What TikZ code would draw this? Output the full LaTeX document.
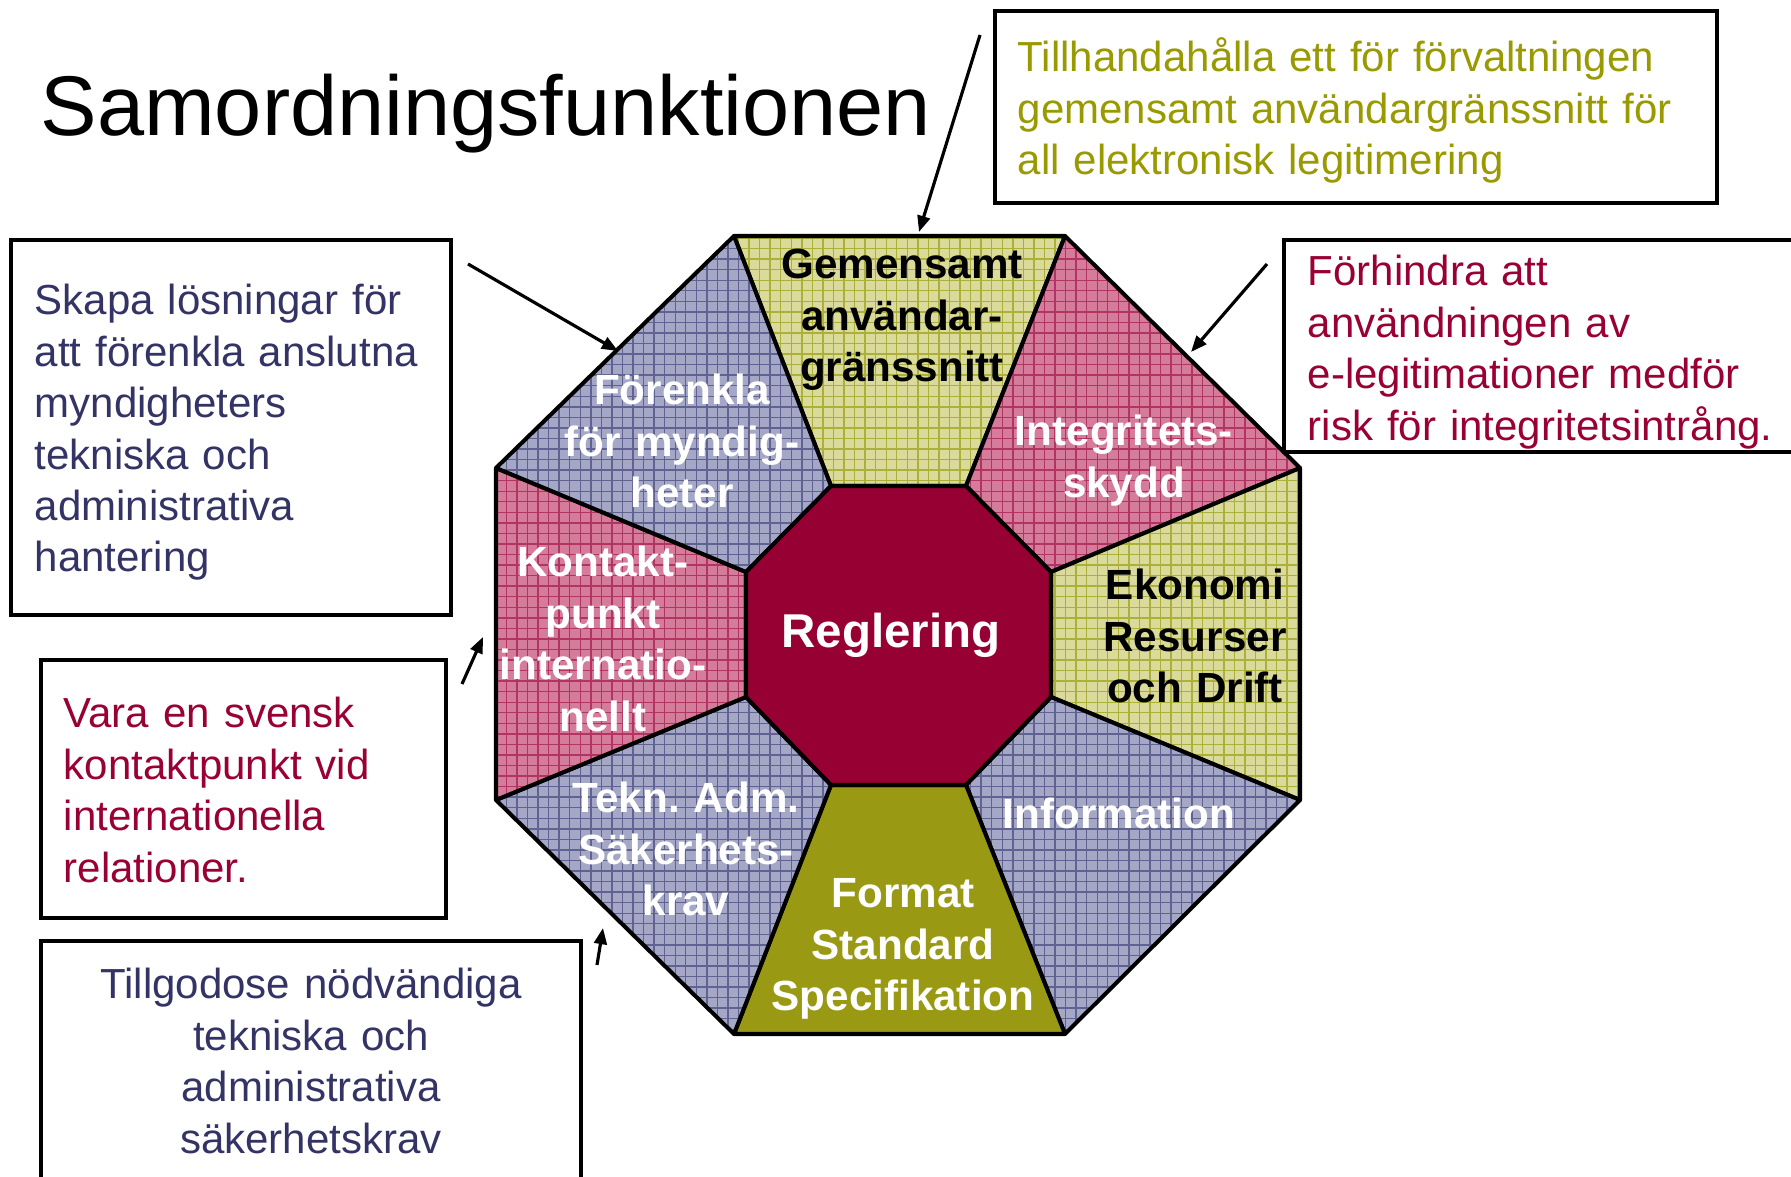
\documentclass[tikz,border=0pt]{standalone}
\usepackage{fontspec}
\setmainfont{Liberation Sans}
\usetikzlibrary{patterns,arrows.meta}
\definecolor{textolive}{RGB}{153,153,0}
\definecolor{textred}{RGB}{153,0,51}
\definecolor{textnavy}{RGB}{51,51,102}
\definecolor{bluebase}{RGB}{164,168,198}
\definecolor{blueline}{RGB}{96,98,145}
\definecolor{pinkbase}{RGB}{212,124,154}
\definecolor{pinkline}{RGB}{178,52,98}
\definecolor{yelbase}{RGB}{218,218,154}
\definecolor{yelline}{RGB}{172,176,58}
\definecolor{formatfill}{RGB}{153,153,20}
\definecolor{reglfill}{RGB}{150,0,51}
\tikzset{
  piece/.style={draw=black,line width=1.15pt,line join=round,pattern=grid},
  bluepiece/.style={piece,preaction={fill=bluebase},pattern color=blueline},
  pinkpiece/.style={piece,preaction={fill=pinkbase},pattern color=pinkline},
  yelpiece/.style={piece,preaction={fill=yelbase},pattern color=yelline},
  solidpiece/.style={draw=black,line width=1.15pt,line join=round,fill=formatfill},
  centerpiece/.style={draw=black,line width=1.15pt,line join=round,fill=reglfill},
  seglabel/.style={font=\fontsize{12}{14.6}\selectfont\bfseries,text width=3cm,align=center,anchor=base,inner sep=0pt},
  notebox/.style={draw=black,line width=1.15pt},
  note/.style={font=\fontsize{11.95}{14.6}\selectfont,text width=7cm,align=left,anchor=base west,inner sep=0pt},
  pointer/.style={line width=0.9pt,-{Triangle[length=4.6pt,width=3.6pt]}}
}

\begin{document}
\begin{tikzpicture}[x=0.01cm,y=-0.01cm]
\useasboundingbox (0,0) rectangle (1791,1177);
\clip (0,0) rectangle (1791,1177);

\node[anchor=base west,inner sep=0pt,font=\fontsize{24.1}{29}\selectfont] (title) at (40,136) {Samordningsfunktionen};

\foreach \n/\x/\y in {1/734/236,2/1065/236,3/1300/468,4/1300/800,5/1065/1034,6/734/1034,7/496/800,8/496/468}
  \coordinate (o\n) at (\x,\y);
\foreach \n/\x/\y in {1/831/486,2/966/486,3/1051/572,4/1051/697,5/966/785,6/831/785,7/746/697,8/746/572}
  \coordinate (i\n) at (\x,\y);
\foreach \a/\b/\s in {1/2/yelpiece,2/3/pinkpiece,3/4/yelpiece,4/5/bluepiece,5/6/solidpiece,6/7/bluepiece,7/8/pinkpiece,8/1/bluepiece}
  \draw[\s] (o\a) -- (o\b) -- (i\b) -- (i\a) -- cycle;
\draw[centerpiece] (i1) -- (i2) -- (i3) -- (i4) -- (i5) -- (i6) -- (i7) -- (i8) -- cycle;

\node[seglabel] (gemensamt) at (902,279) {Gemensamt\\ användar-\\ gränssnitt};
\node[seglabel,white] (integritet) at (1124,446) {Integritets-\\ skydd};
\node[seglabel] (ekonomi) at (1195,600) {Ekonomi\\ Resurser\\ och Drift};
\node[seglabel,white] (information) at (1119,829) {Information};
\node[seglabel,white] (format) at (903,908) {Format\\ Standard\\ Specifikation};
\node[seglabel,white] (tekn) at (686,813) {Tekn.\ Adm.\\ Säkerhets-\\ krav};
\node[seglabel,white] (kontakt) at (603,577) {Kontakt-\\ punkt\\ internatio-\\ nellt};
\node[seglabel,white] (forenkla) at (682,405) {Förenkla\\ för myndig-\\ heter};
\node[seglabel,white,font=\fontsize{13.5}{16}\selectfont\bfseries] (reglering) at (891,648) {Reglering};

\draw[notebox] (995,11) rectangle (1717,203);
\node[note,textolive] (tillhanda) at (1017,72) {Tillhandahålla ett för förvaltningen\\ gemensamt användargränssnitt för\\ all elektronisk legitimering};
\draw[notebox] (1284,240) rectangle (1810,452);
\node[note,textred] (forhindra) at (1307,286) {Förhindra att\\ användningen av\\ e-legitimationer medför\\ risk för integritetsintrång.};
\draw[notebox] (11,240) rectangle (451,615);
\node[note,textnavy] (skapa) at (34,315) {Skapa lösningar för\\ att förenkla anslutna\\ myndigheters\\ tekniska och\\ administrativa\\ hantering};
\draw[notebox] (41,660) rectangle (446,918);
\node[note,textred] (vara) at (63,728) {Vara en svensk\\ kontaktpunkt vid\\ internationella\\ relationer.};
\draw[notebox] (41,941) rectangle (581,1200);
\node[note,textnavy,align=center,anchor=base] (tillgodose) at (311,999) {Tillgodose nödvändiga\\ tekniska och\\ administrativa\\ säkerhetskrav};

\coordinate (gemtail) at (980,35);
\coordinate (gemtip) at (919,232);
\coordinate (forenkltail) at (468,264);
\coordinate (forenkltip) at (618,351);
\coordinate (integrtail) at (1267,264);
\coordinate (integrtip) at (1191,352);
\coordinate (kontakttail) at (462,684);
\coordinate (kontakttip) at (483,637);
\coordinate (tekntail) at (597,965);
\coordinate (tekntip) at (603,928);
\draw[pointer] (gemtail) -- (gemtip);
\draw[pointer] (forenkltail) -- (forenkltip);
\draw[pointer] (integrtail) -- (integrtip);
\draw[pointer] (kontakttail) -- (kontakttip);
\draw[pointer] (tekntail) -- (tekntip);
\end{tikzpicture}
\end{document}
